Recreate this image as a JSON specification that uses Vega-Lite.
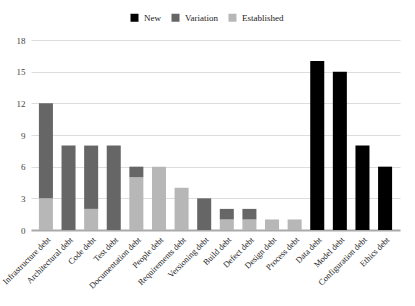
{
  "$schema": "https://vega.github.io/schema/vega-lite/v6.json",
  "width": 369,
  "height": 190,
  "autosize": "none",
  "padding": {"left": 31, "top": 40, "right": 15, "bottom": 76},
  "background": "white",
  "config": {
    "font": "Liberation Serif",
    "view": {"stroke": null}
  },
  "data": {"values": [
    {"cat": "Infrastructure debt", "type": "Established", "v": 3, "o": 1},
    {"cat": "Infrastructure debt", "type": "Variation", "v": 9, "o": 2},
    {"cat": "Architectural debt", "type": "Variation", "v": 8, "o": 2},
    {"cat": "Code debt", "type": "Established", "v": 2, "o": 1},
    {"cat": "Code debt", "type": "Variation", "v": 6, "o": 2},
    {"cat": "Test debt", "type": "Variation", "v": 8, "o": 2},
    {"cat": "Documentation debt", "type": "Established", "v": 5, "o": 1},
    {"cat": "Documentation debt", "type": "Variation", "v": 1, "o": 2},
    {"cat": "People debt", "type": "Established", "v": 6, "o": 1},
    {"cat": "Requirements debt", "type": "Established", "v": 4, "o": 1},
    {"cat": "Versioning debt", "type": "Variation", "v": 3, "o": 2},
    {"cat": "Build debt", "type": "Established", "v": 1, "o": 1},
    {"cat": "Build debt", "type": "Variation", "v": 1, "o": 2},
    {"cat": "Defect debt", "type": "Established", "v": 1, "o": 1},
    {"cat": "Defect debt", "type": "Variation", "v": 1, "o": 2},
    {"cat": "Design debt", "type": "Established", "v": 1, "o": 1},
    {"cat": "Process debt", "type": "Established", "v": 1, "o": 1},
    {"cat": "Data debt", "type": "New", "v": 16, "o": 3},
    {"cat": "Model debt", "type": "New", "v": 15, "o": 3},
    {"cat": "Configuration debt", "type": "New", "v": 8, "o": 3},
    {"cat": "Ethics debt", "type": "New", "v": 6, "o": 3}
  ]},
  "mark": {"type": "bar"},
  "encoding": {
    "x": {
      "field": "cat", "type": "nominal", "sort": null,
      "scale": {"paddingInner": 0.38, "paddingOuter": 0.35},
      "axis": {"title": null, "labelAngle": -45, "labelAlign": "right", "labelBaseline": "top", "labelFontSize": 8.5, "labelColor": "#222", "ticks": false, "domain": true, "domainColor": "#aaaaaa", "domainWidth": 2, "labelPadding": 5, "labelOverlap": false}
    },
    "y": {
      "field": "v", "type": "quantitative", "stack": "zero",
      "scale": {"domain": [0, 18], "nice": false},
      "axis": {"title": null, "values": [0, 3, 6, 9, 12, 15, 18], "labelOverlap": false, "ticks": false, "domain": false, "gridColor": "#dddddd", "labelFontSize": 9, "labelColor": "#444", "labelPadding": 6}
    },
    "color": {
      "field": "type", "type": "nominal",
      "scale": {"domain": ["New", "Variation", "Established"], "range": ["#000000", "#666666", "#b7b7b7"]},
      "legend": {"title": null, "orient": "none", "legendX": 99, "legendY": -27, "direction": "horizontal", "symbolType": "square", "symbolSize": 64, "labelFontSize": 9, "labelColor": "#222", "columnPadding": 10, "symbolStrokeWidth": 0, "labelOffset": 5}
    },
    "order": {"field": "o", "type": "quantitative"}
  }
}
